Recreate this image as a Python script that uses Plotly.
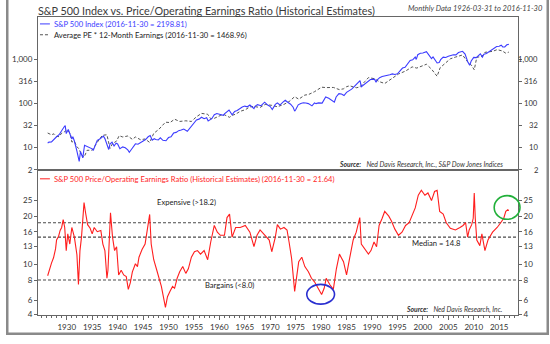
import math
import plotly.graph_objects as go

# ---------------- data ----------------
sp_years = [1926.25, 1926.5, 1927.0, 1927.5, 1928.0, 1928.5, 1929.0, 1929.5, 1929.7, 1929.9,
            1930.0, 1930.3, 1930.5, 1931.0, 1931.2, 1931.5, 1932.0, 1932.45, 1932.7, 1933.15,
            1933.5, 1934.0, 1934.5, 1935.0, 1935.2, 1935.5, 1936.0, 1936.5, 1937.2, 1937.5,
            1938.0, 1938.25, 1938.5, 1938.9, 1939.3, 1939.7, 1940.0, 1940.45, 1941.0, 1941.5,
            1942.0, 1942.3, 1942.7, 1943.0, 1943.5, 1944.0, 1944.5, 1945.0, 1945.5, 1946.0,
            1946.4, 1946.8, 1947.2, 1947.5, 1948.0, 1948.4, 1948.9, 1949.5, 1950.0, 1950.5,
            1951.0, 1951.5, 1952.0, 1952.5, 1953.0, 1953.7, 1954.0, 1954.5, 1955.0, 1955.5,
            1956.0, 1956.5, 1957.0, 1957.5, 1957.8, 1958.0, 1958.5, 1959.0, 1959.5, 1960.0,
            1960.8, 1961.0, 1961.9, 1962.5, 1963.0, 1963.5, 1964.0, 1964.5, 1965.0, 1965.5,
            1966.0, 1966.8, 1967.0, 1967.5, 1968.2, 1968.9, 1969.5, 1970.0, 1970.4, 1971.0,
            1971.4, 1971.9, 1972.5, 1972.95, 1973.5, 1974.0, 1974.5, 1974.8, 1975.0, 1975.5,
            1976.0, 1976.5, 1977.0, 1977.5, 1978.2, 1978.7, 1979.0, 1979.5, 1980.2, 1980.9,
            1981.5, 1982.0, 1982.6, 1982.95, 1983.5, 1984.0, 1984.5, 1985.0, 1985.5, 1986.0,
            1986.5, 1987.0, 1987.65, 1987.9, 1988.5, 1989.0, 1989.7, 1990.5, 1990.8, 1991.0,
            1991.5, 1992.0, 1992.5, 1993.0, 1993.5, 1994.0, 1994.5, 1995.0, 1995.5, 1996.0,
            1996.5, 1997.0, 1997.5, 1998.0, 1998.5, 1998.7, 1999.0, 1999.5, 2000.0, 2000.7,
            2001.0, 2001.7, 2002.0, 2002.5, 2002.8, 2003.2, 2003.5, 2004.0, 2004.5, 2005.0,
            2005.5, 2006.0, 2006.5, 2007.0, 2007.8, 2008.3, 2008.8, 2009.2, 2009.5, 2010.0,
            2010.5, 2011.0, 2011.3, 2011.7, 2012.0, 2012.5, 2013.0, 2013.5, 2014.0, 2014.5,
            2015.0, 2015.4, 2015.7, 2016.1, 2016.5, 2016.9]
sp_values = [12.5, 13.2, 13.4, 15.5, 17.5, 19.5, 24.9, 29.5, 31.3, 20.6,
             21.9, 25.5, 21.5, 15.6, 17.5, 14.0, 8.3, 4.8, 8.1, 5.8,
             11.2, 10.5, 9.5, 9.3, 8.5, 10.7, 14.5, 15.5, 18.1, 15.9,
             11.2, 9.0, 12.0, 13.2, 10.8, 12.5, 12.0, 9.4, 10.3, 9.8,
             8.8, 7.8, 9.0, 10.1, 12.1, 11.8, 12.9, 13.5, 15.1, 17.5,
             18.7, 14.7, 15.8, 15.2, 14.8, 16.5, 14.5, 14.2, 16.8, 17.5,
             21.2, 22.0, 24.1, 24.8, 26.2, 23.3, 25.5, 30.0, 36.0, 42.0,
             44.0, 48.5, 45.0, 47.5, 40.0, 41.5, 45.0, 55.5, 59.0, 57.0,
             53.5, 58.0, 71.0, 55.0, 66.0, 69.0, 77.0, 83.0, 87.0, 84.0,
             92.0, 76.0, 86.0, 94.0, 89.0, 107.0, 92.0, 85.0, 73.0, 95.0,
             103.0, 92.0, 107.0, 118.0, 105.0, 96.0, 82.0, 67.0, 72.0, 93.0,
             100.0, 104.0, 102.0, 99.0, 88.0, 103.0, 99.0, 103.0, 102.0, 140.0,
             131.0, 117.0, 107.0, 140.0, 167.0, 164.0, 151.0, 179.0, 192.0, 211.0,
             240.0, 274.0, 330.0, 240.0, 270.0, 297.0, 350.0, 356.0, 304.0, 340.0,
             385.0, 410.0, 420.0, 440.0, 450.0, 470.0, 455.0, 470.0, 560.0, 636.0,
             660.0, 786.0, 950.0, 980.0, 1130.0, 1000.0, 1280.0, 1380.0, 1400.0, 1500.0,
             1320.0, 1040.0, 1140.0, 920.0, 830.0, 850.0, 990.0, 1130.0, 1110.0, 1180.0,
             1230.0, 1280.0, 1270.0, 1430.0, 1530.0, 1320.0, 900.0, 735.0, 920.0, 1115.0,
             1100.0, 1290.0, 1340.0, 1130.0, 1310.0, 1360.0, 1480.0, 1630.0, 1780.0, 1960.0,
             1995.0, 2105.0, 1920.0, 1930.0, 2150.0, 2198.81]

fv_years = [1926.25, 1927.0, 1927.5, 1928.0, 1928.5, 1929.0, 1929.5, 1929.9, 1930.3, 1930.7,
            1931.0, 1931.5, 1932.0, 1932.4, 1932.9, 1933.4, 1934.0, 1935.0, 1936.0, 1937.0,
            1937.9, 1938.5, 1939.0, 1939.8, 1940.3, 1941.0, 1942.0, 1942.9, 1943.5, 1944.5,
            1945.4, 1946.3, 1947.1, 1948.1, 1949.4, 1950.3, 1951.2, 1952.2, 1953.4, 1954.5,
            1955.5, 1956.5, 1957.7, 1958.3, 1959.0, 1960.2, 1961.0, 1962.0, 1962.5, 1963.2,
            1964.1, 1965.1, 1966.0, 1966.8, 1968.0, 1969.0, 1970.3, 1971.4, 1972.7, 1973.7,
            1974.8, 1975.6, 1976.8, 1977.5, 1978.7, 1980.1, 1981.0, 1982.4, 1983.6, 1984.4,
            1985.0, 1985.6, 1986.9, 1987.6, 1988.6, 1989.3, 1990.4, 1991.4, 1992.5, 1993.8,
            1994.5, 1995.2, 1996.6, 1997.9, 1998.8, 1999.7, 2000.7, 2001.7, 2002.8, 2003.4,
            2004.6, 2005.4, 2006.4, 2007.8, 2008.8, 2009.5, 2010.1, 2010.6, 2011.6, 2012.2,
            2013.7, 2014.6, 2015.6, 2016.3, 2016.9]
fv_values = [21.3, 19.4, 20.4, 17.8, 17.6, 21.2, 22.5, 24.4, 23.8, 20.5,
             13.3, 13.7, 10.4, 9.3, 6.8, 6.0, 8.6, 8.7, 13.1, 18.9,
             19.4, 9.5, 12.2, 14.0, 18.5, 17.3, 18.2, 15.3, 17.3, 15.0,
             15.6, 13.0, 20.9, 25.8, 37.5, 36.8, 43.8, 39.0, 40.3, 39.0,
             49.8, 59.4, 56.8, 45.0, 45.9, 53.3, 55.2, 48.4, 53.7, 57.0,
             66.3, 71.9, 83.7, 85.2, 81.1, 95.1, 90.4, 84.1, 95.3, 110.0,
             142.5, 125.0, 155.0, 159.0, 185.0, 234.0, 229.0, 231.0, 206.0, 215.0,
             240.0, 252.0, 227.0, 236.0, 315.0, 386.0, 367.0, 314.0, 284.0, 360.0,
             396.0, 466.0, 545.0, 677.0, 636.0, 688.0, 777.0, 602.0, 414.0, 649.0,
             882.0, 1033.0, 1129.0, 1264.0, 879.0, 752.0, 580.0, 1120.0, 1166.0, 1450.0,
             1528.0, 1667.0, 1560.0, 1385.0, 1468.96]

pe_years = [1926.25, 1926.7, 1927.0, 1927.4, 1927.8, 1928.0, 1928.4, 1928.7, 1929.0, 1929.3,
            1929.6, 1929.9, 1930.2, 1930.6, 1931.0, 1931.5, 1932.0, 1932.3, 1932.6, 1932.9,
            1933.2, 1933.4, 1933.7, 1934.1, 1934.6, 1935.0, 1935.4, 1936.0, 1936.7, 1937.1,
            1937.5, 1937.9, 1938.1, 1938.4, 1938.6, 1939.0, 1939.4, 1939.8, 1940.2, 1940.7,
            1941.2, 1941.7, 1942.1, 1942.5, 1942.9, 1943.5, 1943.9, 1944.2, 1944.8, 1945.4,
            1945.7, 1946.0, 1946.3, 1946.6, 1947.1, 1947.7, 1948.1, 1948.6, 1949.4, 1949.8,
            1950.3, 1950.8, 1951.2, 1951.7, 1952.2, 1952.8, 1953.4, 1953.9, 1954.5, 1955.1,
            1955.7, 1956.3, 1957.0, 1957.7, 1958.3, 1959.0, 1959.6, 1960.2, 1961.0, 1961.5,
            1962.0, 1962.5, 1963.2, 1964.1, 1965.1, 1966.0, 1966.8, 1967.4, 1968.0, 1969.0,
            1969.8, 1970.3, 1971.0, 1971.4, 1972.0, 1972.7, 1973.3, 1973.7, 1974.2, 1974.8,
            1975.2, 1975.6, 1976.2, 1976.8, 1977.5, 1978.1, 1978.7, 1979.5, 1980.1, 1980.6,
            1981.0, 1981.7, 1982.4, 1983.0, 1983.6, 1984.4, 1985.0, 1985.6, 1986.3, 1986.9,
            1987.6, 1987.9, 1988.6, 1989.3, 1989.8, 1990.4, 1990.9, 1991.4, 1992.0, 1992.5,
            1993.3, 1993.8, 1994.5, 1995.2, 1995.9, 1996.6, 1997.3, 1998.0, 1998.5, 1999.1,
            1999.7, 2000.4, 2001.0, 2001.7, 2002.3, 2002.8, 2003.3, 2004.0, 2004.6, 2005.4,
            2006.4, 2007.3, 2007.9, 2008.4, 2008.8, 2009.1, 2009.6, 2009.9, 2010.1, 2010.3,
            2010.6, 2011.2, 2011.6, 2012.2, 2012.8, 2013.7, 2014.6, 2015.3, 2015.9, 2016.3,
            2016.7, 2016.9]
pe_values = [8.5, 9.7, 10.2, 11.0, 12.5, 14.2, 15.0, 16.3, 17.0, 19.0,
             17.0, 12.2, 15.5, 13.4, 17.0, 14.8, 11.5, 7.5, 12.2, 14.8,
             19.4, 24.3, 21.0, 17.7, 16.8, 15.5, 17.0, 16.0, 16.3, 13.4,
             12.2, 8.2, 9.2, 17.7, 21.0, 14.8, 12.2, 12.9, 8.6, 9.2,
             8.6, 8.4, 7.0, 7.7, 9.0, 10.1, 9.7, 11.1, 12.4, 13.4,
             15.5, 18.6, 20.5, 13.4, 10.7, 9.2, 8.4, 7.3, 5.4, 6.3,
             6.8, 7.3, 7.1, 8.2, 9.0, 9.7, 8.8, 9.4, 11.1, 12.0,
             12.2, 11.6, 12.2, 10.7, 13.8, 17.5, 15.9, 15.2, 15.2, 19.6,
             20.6, 14.8, 17.0, 17.0, 17.5, 15.9, 12.9, 15.2, 16.4, 15.2,
             14.2, 12.0, 14.8, 17.7, 16.6, 17.0, 16.4, 13.8, 10.9, 6.8,
             8.6, 10.4, 11.1, 9.7, 9.0, 8.2, 7.8, 7.1, 6.5, 7.1,
             8.2, 7.5, 7.0, 9.4, 11.6, 10.4, 8.6, 10.9, 14.2, 15.9,
             19.6, 13.4, 12.4, 11.6, 12.2, 13.8, 12.9, 17.5, 19.4, 21.4,
             20.0, 18.7, 16.6, 15.2, 15.9, 17.5, 18.2, 20.5, 22.5, 27.0,
             29.0, 27.0, 27.9, 25.0, 28.5, 29.0, 21.4, 20.6, 18.2, 16.8,
             16.4, 17.0, 17.5, 18.2, 14.8, 16.4, 17.7, 19.4, 27.9, 19.4,
             14.2, 13.1, 15.5, 12.2, 14.2, 15.9, 17.0, 18.2, 19.4, 21.4,
             21.9, 21.64]

pe_levels = [18.2, 14.8, 8.0]
pe_level_labels = ["Expensive (>18.2)", "Median = 14.8", "Bargains (<8.0)"]

top_tick_vals = [3.1, 10, 31.6, 100, 316, 1000]
top_tick_text = ["2", "10", "32", "100", "316", "1,000"]
bot_tick_vals = [4.9, 6, 8, 10, 13, 16, 20, 25]
bot_tick_text = ["4", "6", "8", "10", "13", "16", "20", "25"]
year_ticks = list(range(1930, 2016, 5))

# ---------------- layout constants ----------------
W, H = 550, 344
ML, MR, MT, MB = 34, 32, 17, 25
PW = W - ML - MR
PH = H - MT - MB
XR = [1924.35, 2018.7]
Y1R = [0.489, 3.964]
Y2R = [0.685, 1.589]
SPLIT = (319 - 172) / PH

FONT = "Lato, 'Open Sans', sans-serif"
TXT = "#333333"
BLUE = "#3c3cff"
RED = "#ff1e1e"
GRAY = "#4a4a4a"


def px(xp):
    return (xp - ML) / PW


def py(yp):
    return (H - MB - yp) / PH


fig = go.Figure()

fig.add_trace(go.Scatter(x=fv_years, y=fv_values, mode="lines", xaxis="x", yaxis="y",
                         line=dict(color="#555555", width=1, dash="3px,2px"), hoverinfo="skip"))
fig.add_trace(go.Scatter(x=sp_years, y=sp_values, mode="lines", xaxis="x", yaxis="y",
                         line=dict(color=BLUE, width=1.1)))
# invisible trace so the right-hand axis of the top panel is drawn
fig.add_trace(go.Scatter(x=sp_years, y=sp_values, mode="lines", xaxis="x", yaxis="y3",
                         line=dict(color="rgba(0,0,0,0)", width=0), hoverinfo="skip"))

for lvl in pe_levels:
    fig.add_trace(go.Scatter(x=XR, y=[lvl, lvl], mode="lines", xaxis="x2", yaxis="y2",
                             line=dict(color=GRAY, width=1.2, dash="3px,2px"), hoverinfo="skip"))
fig.add_trace(go.Scatter(x=pe_years, y=pe_values, mode="lines", xaxis="x2", yaxis="y2",
                         line=dict(color=RED, width=1.1)))
fig.add_trace(go.Scatter(x=pe_years, y=pe_values, mode="lines", xaxis="x2", yaxis="y4",
                         line=dict(color="rgba(0,0,0,0)", width=0), hoverinfo="skip"))

axis_common = dict(showgrid=False, zeroline=False, showline=True, linecolor="#666666",
                   linewidth=1, tickcolor="#666666", tickfont=dict(size=8, color=TXT, family=FONT))
axis_nofont = {k: v for k, v in axis_common.items() if k != "tickfont"}

fig.update_layout(
    width=W, height=H, showlegend=False,
    margin=dict(l=ML, r=MR, t=MT, b=MB),
    paper_bgcolor="white", plot_bgcolor="white",
    font=dict(family=FONT, color=TXT),
    xaxis=dict(domain=[0, 1], anchor="y", range=XR, showticklabels=False, ticks="",
               mirror=True, **axis_nofont),
    yaxis=dict(domain=[SPLIT, 1], anchor="x", type="log", range=Y1R,
               tickvals=top_tick_vals, ticktext=top_tick_text, ticks="outside", ticklen=3,
               **axis_common),
    yaxis3=dict(overlaying="y", side="right", anchor="x", type="log", range=Y1R,
                tickvals=top_tick_vals, showticklabels=False, ticks="outside", ticklen=3,
                **axis_nofont),
    xaxis2=dict(domain=[0, 1], anchor="y2", range=XR, tickmode="array", tickvals=year_ticks,
                ticks="outside", ticklen=4, mirror=True,
                minor=dict(dtick=1, tick0=1930, ticks="outside", ticklen=2, tickcolor="#666666"),
                **axis_common),
    yaxis2=dict(domain=[0, SPLIT], anchor="x2", type="log", range=Y2R,
                tickvals=bot_tick_vals, ticktext=bot_tick_text, ticks="outside", ticklen=3,
                **axis_common),
    yaxis4=dict(overlaying="y2", side="right", anchor="x2", type="log", range=Y2R,
                tickvals=bot_tick_vals, ticktext=bot_tick_text, ticks="outside", ticklen=3,
                **axis_common),
)

ann = []
# title and header
ann.append(dict(x=px(32), y=py(10), xref="paper", yref="paper", xanchor="left", yanchor="middle",
                text="S&P 500 Index vs. Price/Operating Earnings Ratio (Historical Estimates)",
                showarrow=False, font=dict(size=10.8, color="#3a3a3a")))
ann.append(dict(x=px(545), y=py(8), xref="paper", yref="paper", xanchor="right", yanchor="middle",
                text="<i>Monthly Data 1926-03-31 to 2016-11-30</i>",
                showarrow=False, font=dict(size=7.5, color="#444444")))
# legends
ann.append(dict(x=px(48), y=py(24), xref="paper", yref="paper", xanchor="left", yanchor="middle",
                text="S&P 500 Index (2016-11-30 = 2198.81)", showarrow=False,
                font=dict(size=7.6, color=BLUE)))
ann.append(dict(x=px(48), y=py(35), xref="paper", yref="paper", xanchor="left", yanchor="middle",
                text="Average PE * 12-Month Earnings (2016-11-30 = 1468.96)", showarrow=False,
                font=dict(size=7.6, color="#222222")))
ann.append(dict(x=px(48), y=py(181), xref="paper", yref="paper", xanchor="left", yanchor="middle",
                text="S&P 500 Price/Operating Earnings Ratio (Historical Estimates) (2016-11-30 = 21.64)",
                showarrow=False, font=dict(size=7.6, color=RED)))
# sources
ann.append(dict(x=px(505), y=py(166), xref="paper", yref="paper", xanchor="right", yanchor="middle",
                text="<b><i>Source:</i></b>   <i>Ned Davis Research, Inc., S&P Dow Jones Indices</i>",
                showarrow=False, font=dict(size=6.8, color="#333333")))
ann.append(dict(x=px(505), y=py(313), xref="paper", yref="paper", xanchor="right", yanchor="middle",
                text="<b><i>Source:</i></b>   <i>Ned Davis Research, Inc.</i>",
                showarrow=False, font=dict(size=6.8, color="#333333")))
# level labels
lbl_pos = [(1953.6, 24.6), (2002.7, 13.7), (1962.0, 7.45)]
for (lx, ly), txt in zip(lbl_pos, pe_level_labels):
    ann.append(dict(x=lx, y=math.log10(ly), xref="x2", yref="y2", xanchor="center", yanchor="middle",
                    text=txt, showarrow=False, font=dict(size=7.6, color="#222222")))
# right-aligned tick labels for the top panel
for v, t in zip(top_tick_vals, top_tick_text):
    ann.append(dict(x=px(540), y=math.log10(v), xref="paper", yref="y", xanchor="right",
                    yanchor="middle", text=t, showarrow=False, font=dict(size=7.6, color=TXT)))
fig.update_layout(annotations=ann)

shapes = []
# legend samples
shapes.append(dict(type="line", xref="paper", yref="paper", x0=px(36), x1=px(46), y0=py(24), y1=py(24),
                   line=dict(color=BLUE, width=1)))
shapes.append(dict(type="line", xref="paper", yref="paper", x0=px(36), x1=px(46), y0=py(35), y1=py(35),
                   line=dict(color="#555555", width=1, dash="3px,2px")))
shapes.append(dict(type="line", xref="paper", yref="paper", x0=px(36), x1=px(46), y0=py(181), y1=py(181),
                   line=dict(color=RED, width=1)))
# highlight circles (paper coordinates)
shapes.append(dict(type="circle", xref="paper", yref="paper", x0=px(305), x1=px(333),
                   y0=py(308), y1=py(288), line=dict(color="#2a2fd0", width=1.6)))
shapes.append(dict(type="circle", xref="paper", yref="paper", x0=px(494), x1=px(520),
                   y0=py(222), y1=py(198), line=dict(color="#22b03a", width=1.6)))
# outer frame
shapes.append(dict(type="rect", xref="paper", yref="paper", x0=px(3), x1=px(548), y0=py(338), y1=py(-3),
                   line=dict(color="#8a8a8a", width=2.5), layer="below"))
fig.update_layout(shapes=shapes)

fig.write_html("out.html")
